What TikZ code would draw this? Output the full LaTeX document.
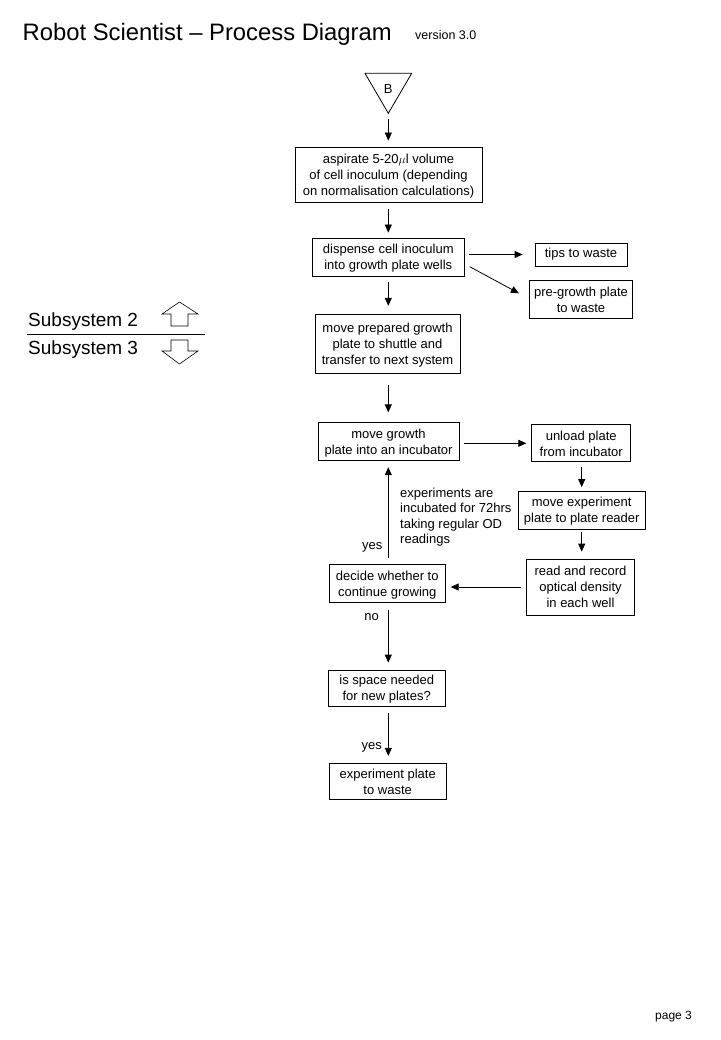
\documentclass[tikz,border=0pt]{standalone}
\usepackage{fontspec}
\setmainfont{Liberation Sans}
\usetikzlibrary{arrows.meta,calc}
\begin{document}
\begin{tikzpicture}[x=1pt,y=-1pt,
  box/.style={draw, line width=0.8pt, inner sep=0pt, align=center, font=\fontsize{13}{16}\selectfont},
  ml/.style={text depth=-4pt},
  arr/.style={line width=0.8pt, -{Triangle[length=8pt,width=7pt]}},
  lbl/.style={font=\fontsize{13}{16}\selectfont, inner sep=0pt},
  thin/.style={line width=0.6pt}]
\useasboundingbox (0,0) rectangle (720,1040);
% title
\node[anchor=base west, inner sep=0pt, font=\fontsize{23.8}{28}\selectfont] (title) at (22.5,40.5) {Robot Scientist – Process Diagram};
\node[anchor=base west, inner sep=0pt, font=\fontsize{12.5}{14}\selectfont] (version) at (415,39.5) {version 3.0};
% subsystem legend
\node[anchor=base west, inner sep=0pt, font=\fontsize{19}{22}\selectfont] (sub2) at (28,326.5) {Subsystem 2};
\node[anchor=base west, inner sep=0pt, font=\fontsize{19}{22}\selectfont] (sub3) at (28,354.5) {Subsystem 3};
\draw[line width=0.8pt] (27,334) -- (205,334);
\draw[thin] (179.5,302) -- (198,314) -- (188,314) -- (188,326) -- (171,326) -- (171,314) -- (162,314) -- cycle;
\draw[thin] (171,340) -- (188,340) -- (188,351) -- (198,351) -- (179.5,364) -- (162,351) -- (171,351) -- cycle;
% connector B
\coordinate (Btl) at (365,73.3);
\coordinate (Btr) at (411.7,73.3);
\coordinate (Bapex) at (388.3,113.3);
\draw[line width=0.8pt] (Btl) -- (Btr) -- (Bapex) -- cycle;
\node[lbl] (B) at (388.3,89.5) {B};
% boxes
\node[box, ml, minimum width=187pt, minimum height=55pt] (asp) at (388.5,174.5) {aspirate 5-20$\mu$l volume\\of cell inoculum (depending\\on normalisation calculations)};
\node[box, ml, minimum width=152pt, minimum height=38pt] (disp) at (388.3,257) {dispense cell inoculum\\into growth plate wells};
\node[box, minimum width=92pt, minimum height=23pt] (tips) at (581,254.5) {tips to waste};
\node[box, ml, minimum width=103pt, minimum height=38pt] (pre) at (581,299.5) {pre-growth plate\\to waste};
\node[box, ml, minimum width=145pt, minimum height=59pt] (mprep) at (387.5,343.7) {move prepared growth\\plate to shuttle and\\transfer to next system};
\node[box, ml, minimum width=141pt, minimum height=38pt] (mgrow) at (388.5,441.8) {move growth\\plate into an incubator};
\node[box, ml, minimum width=99pt, minimum height=37pt] (unload) at (581.2,443.3) {unload plate\\from incubator};
\node[box, ml, minimum width=127pt, minimum height=38pt] (mexp) at (581.7,510) {move experiment\\plate to plate reader};
\node[box, ml, minimum width=108pt, minimum height=56pt] (read) at (580.5,587) {read and record\\optical density\\in each well};
\node[box, ml, minimum width=116pt, minimum height=38pt] (decide) at (387.3,583.5) {decide whether to\\continue growing};
\node[box, ml, minimum width=117pt, minimum height=36pt] (space) at (386.7,688) {is space needed\\for new plates?};
\node[box, ml, minimum width=117pt, minimum height=36pt] (waste) at (387.7,781.3) {experiment plate\\to waste};
% labels
\node[lbl, anchor=west, align=left, font=\fontsize{13}{15.5}\selectfont] (note) at (400,517) {experiments are\\incubated for 72hrs\\taking regular OD\\readings};
\node[lbl] (yes1) at (372.3,547) {yes};
\node[lbl] (no1) at (371.7,617) {no};
\node[lbl] (yes2) at (371.7,747) {yes};
% connectors
\draw[arr, shorten <=6pt, shorten >=6pt] (Bapex) -- (Bapex |- asp.north);
\draw[arr, shorten <=7pt, shorten >=5pt] (disp.north |- asp.south) -- (disp.north);
\draw[arr, shorten <=4pt, shorten >=12pt] (disp.east |- tips.west) -- (tips.west);
\draw[arr] ([shift={(5,9.7)}]disp.east) -- ([shift={(-10.2,-6.2)}]pre.west);
\draw[arr, shorten <=6pt, shorten >=8pt] (disp.south) -- (disp.south |- mprep.north);
\draw[arr, shorten <=11pt, shorten >=10pt] (disp.south |- mprep.south) -- (disp.south |- mgrow.north);
\draw[arr, shorten <=5pt, shorten >=5pt] (mgrow.east |- unload.west) -- (unload.west);
\draw[arr, shorten <=5pt, shorten >=3.5pt] (unload.south -| mexp.north) -- (mexp.north);
\draw[arr, shorten <=3pt, shorten >=7pt] (mexp.south) -- (mexp.south |- read.north);
\draw[arr, shorten <=5pt, shorten >=5pt] (read.west) -- (read.west -| decide.east);
\draw[arr, shorten <=6.6pt, shorten >=6pt] (disp.south |- decide.north) -- (disp.south |- mgrow.south);
\draw[arr, shorten <=7pt, shorten >=7pt] (disp.south |- decide.south) -- (disp.south |- space.north);
\draw[arr, shorten <=7pt, shorten >=7pt] (disp.south |- space.south) -- (disp.south |- waste.north);
% page
\node[anchor=base west, inner sep=0pt, font=\fontsize{12}{14}\selectfont] (page) at (655,1019) {page 3};
\end{tikzpicture}
\end{document}
